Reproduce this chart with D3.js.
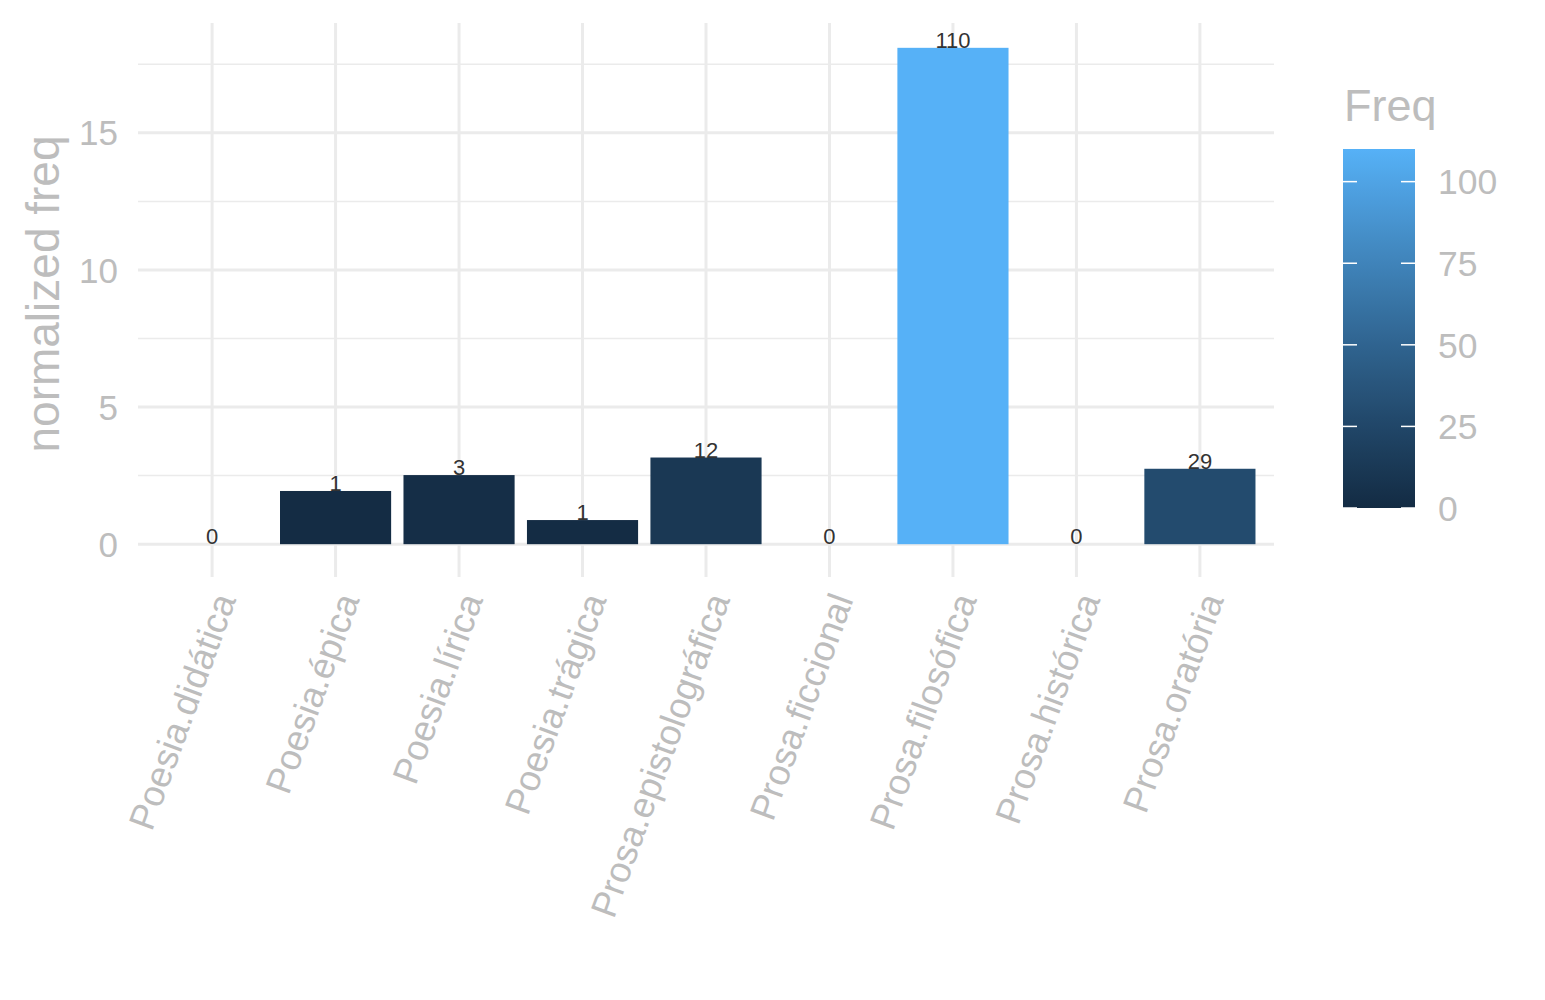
<!DOCTYPE html>
<html><head><meta charset="utf-8">
<script src="https://cdn.jsdelivr.net/npm/d3@7"></script>
<style>body{margin:0;background:#fff}svg{display:block}text{font-family:"Liberation Sans",Arial,Helvetica,sans-serif}</style>
</head><body>
<svg id="c" width="1545" height="1000"></svg>
<script>
const categories = ["Poesia.didática","Poesia.épica","Poesia.lírica","Poesia.trágica","Prosa.epistolográfica","Prosa.ficcional","Prosa.filosófica","Prosa.histórica","Prosa.oratória"];
const normFreq = [0, 1.94, 2.52, 0.88, 3.16, 0, 18.1, 0, 2.75];
const freq = [0, 1, 3, 1, 12, 0, 110, 0, 29];
const yTicks = [0, 5, 10, 15];
const yMinor = [2.5, 7.5, 12.5, 17.5];
const legendTicks = [0, 25, 50, 75, 100];

const svg = d3.select("#c");
const gridCol = "#EBEBEB", textCol = "#BDBDBD";
const left = 138, right = 1274;
const n = categories.length;
const step = (right - left) / (n - 1 + 1.2);
const x = d3.scalePoint().domain(categories).range([left + 0.6*step, right - 0.6*step]);
const yMax = d3.max(normFreq);
const y = d3.scaleLinear().domain([-0.05*yMax, yMax*1.05]).range([569, 23]);
const color = d3.scaleLinear().domain([0, d3.max(freq)]).range(["#132B43", "#56B1F7"]).interpolate(d3.interpolateLab);

const g = svg.append("g");
g.selectAll(".minor").data(yMinor).join("line")
  .attr("x1", left).attr("x2", right).attr("y1", d=>y(d)).attr("y2", d=>y(d))
  .attr("stroke", gridCol).attr("stroke-width", 1.5);
g.selectAll(".major").data(yTicks).join("line")
  .attr("x1", left).attr("x2", right).attr("y1", d=>y(d)).attr("y2", d=>y(d))
  .attr("stroke", gridCol).attr("stroke-width", 3);
g.selectAll(".vmajor").data(categories).join("line")
  .attr("x1", d=>x(d)).attr("x2", d=>x(d)).attr("y1", y.range()[1]).attr("y2", y.range()[0]+8)
  .attr("stroke", gridCol).attr("stroke-width", 3);

const bw = step*0.9;
g.selectAll(".bar").data(categories).join("rect")
  .attr("x", d=>x(d)-bw/2).attr("width", bw)
  .attr("y", (d,i)=>y(normFreq[i])).attr("height", (d,i)=>y(0)-y(normFreq[i]))
  .attr("fill", (d,i)=>color(freq[i]));

g.selectAll(".lbl").data(categories).join("text")
  .attr("x", d=>x(d)).attr("y", (d,i)=>y(normFreq[i]))
  .attr("text-anchor","middle").attr("font-size", 22).attr("fill","#333")
  .text((d,i)=>freq[i]);

g.selectAll(".yt").data(yTicks).join("text")
  .attr("x", 118).attr("y", d=>y(d)).attr("dy","0.36em")
  .attr("text-anchor","end").attr("font-size", 35).attr("fill", textCol).text(d=>d);

g.selectAll(".xt").data(categories).join("text")
  .attr("transform", d=>`translate(${x(d)+12},${595}) rotate(-70)`)
  .attr("dy","0.36em")
  .attr("text-anchor","end").attr("font-size", 36.5).attr("fill", textCol).text(d=>d);

svg.append("text").attr("transform", `translate(42,${(y.range()[0]+y.range()[1])/2 - 2}) rotate(-90)`)
  .attr("dy","0.36em").attr("text-anchor","middle").attr("font-size", 46).attr("fill", textCol)
  .text("normalized freq");

const lx = 1343, lw = 72, ltop = 149, lbot = 508;
const ly = d3.scaleLinear().domain([0, d3.max(freq)]).range([lbot, ltop]);
const defs = svg.append("defs");
const grad = defs.append("linearGradient").attr("id","lg").attr("x1",0).attr("x2",0).attr("y1",1).attr("y2",0);
d3.range(0, 1.0001, 0.05).forEach(t=>{
  grad.append("stop").attr("offset", t).attr("stop-color", color(t*d3.max(freq)));
});
svg.append("rect").attr("x", lx).attr("y", ltop).attr("width", lw).attr("height", lbot-ltop).attr("fill","url(#lg)");
const lt = svg.append("g");
lt.selectAll(".tl").data(legendTicks).join("line")
  .attr("x1", lx).attr("x2", lx+14).attr("y1", d=>ly(d)).attr("y2", d=>ly(d)).attr("stroke","#fff").attr("stroke-width",1.5);
lt.selectAll(".tr").data(legendTicks).join("line")
  .attr("x1", lx+lw-14).attr("x2", lx+lw).attr("y1", d=>ly(d)).attr("y2", d=>ly(d)).attr("stroke","#fff").attr("stroke-width",1.5);
lt.selectAll(".tt").data(legendTicks).join("text")
  .attr("x", 1438).attr("y", d=>ly(d)).attr("dy","0.36em")
  .attr("font-size", 35.5).attr("fill", textCol).text(d=>d);
svg.append("text").attr("x", 1344).attr("y", 121).attr("font-size", 45).attr("fill", textCol).text("Freq");
</script>
</body></html>
